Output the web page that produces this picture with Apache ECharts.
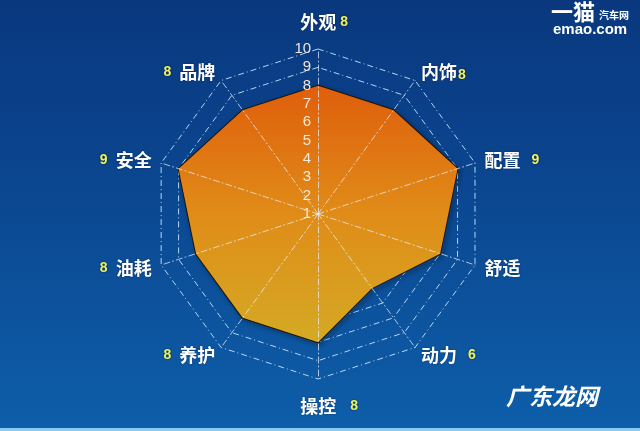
<!DOCTYPE html>
<html>
<head>
<meta charset="utf-8">
<script src="https://cdn.jsdelivr.net/npm/echarts@6/dist/echarts.min.js"></script>
<style>
html,body{margin:0;padding:0;}
#chart{width:640px;height:431px;background:linear-gradient(to bottom,#09387e 0%,#0b4791 45%,#0e5ea9 99.2%,#8ccaf0 99.4%);}
</style>
</head>
<body>
<div id="chart"></div>
<script>
// Data (clockwise from top)
var categories = ['外观', '内饰', '配置', '舒适', '动力', '操控', '养护', '油耗', '安全', '品牌'];
var scores = [8, 8, 9, 8, 6, 8, 8, 8, 9, 8];
var scoreLabels = ['8', '8', '9', '', '6', '8', '8', '8', '9', '8'];
var scaleMin = 1, scaleMax = 10;

// ECharts radar runs counter-clockwise: reorder so the chart reads clockwise
var order = [0, 9, 8, 7, 6, 5, 4, 3, 2, 1];
var libCats = order.map(function (i) { return categories[i]; });
var libScores = order.map(function (i) { return scores[i]; });

var chart = echarts.init(document.getElementById('chart'));
var dash = [6, 3, 1, 3];

function nameFormatter(name) {
  var i = categories.indexOf(name);
  var s = scoreLabels[i];
  if (i === 0) return '{nt|' + name + '}{vt|' + s + '}';
  if (i === 5) return '{nb|' + name + '}{vb|' + s + '}';
  if (i > 5) return '{vl|' + s + '}{n|' + name + '}';
  if (!s) return '{n|' + name + '}';
  if (i === 1) return '{n|' + name + '}{v0|' + s + '}';
  return '{n|' + name + '}{vr|' + s + '}';
}

var numStyle = {color: '#eef35e', fontSize: 14, fontWeight: 'bold', fontFamily: 'Liberation Sans, Arial, sans-serif',
  textShadowColor: 'rgba(0,0,0,0.6)', textShadowBlur: 2};
var nameStyle = {color: '#ffffff', fontSize: 18, fontWeight: 'bold', fontFamily: 'Noto Sans CJK SC, sans-serif'};

function indicators(withLabel) {
  return libCats.map(function (c, i) {
    var o = {name: c, min: scaleMin, max: scaleMax};
    if (withLabel && i === 0) o.axisLabel = {show: true};
    return o;
  });
}

var common = {
  center: ['49.7%', '49.65%'],
  radius: 165,
  startAngle: 90,
  splitNumber: 9,
  shape: 'polygon',
  splitArea: {show: false},
  axisTick: {show: false}
};

chart.setOption({
  backgroundColor: 'transparent',
  animation: false,
  graphic: [
    {type: 'text', left: 551, top: 1, style: {text: '一猫', fill: '#fff', font: 'bold 22px "Noto Sans CJK SC"'}},
    {type: 'text', left: 599, top: 10, style: {text: '汽车网', fill: '#fff', font: 'bold 10px "Noto Sans CJK SC"'}},
    {type: 'text', left: 553, top: 22, style: {text: 'emao.com', fill: '#fff', font: 'bold 15px "Liberation Sans"'}},
    {type: 'text', left: 506, top: 385, style: {text: '广东龙网', fill: '#fff', font: 'italic bold 23px "Noto Sans CJK SC"',
      shadowColor: 'rgba(0,0,0,0.7)', shadowBlur: 3, shadowOffsetX: 1, shadowOffsetY: 1}}
  ],
  radar: [
    Object.assign({}, common, {
      z: 0,
      nameGap: 10,
      indicator: indicators(false),
      axisName: {
        formatter: nameFormatter,
        color: '#fff', fontSize: 18, fontWeight: 'bold', fontFamily: 'Noto Sans CJK SC, sans-serif',
        textShadowColor: 'rgba(0,0,0,0.4)', textShadowBlur: 2,
        rich: {
          n: nameStyle,
          nt: Object.assign({}, nameStyle, {padding: [0, 0, 8, 12]}),
          nb: Object.assign({}, nameStyle, {padding: [8, 0, 0, 22]}),
          vt: Object.assign({}, numStyle, {padding: [0, 0, 8, 4]}),
          vb: Object.assign({}, numStyle, {padding: [8, 0, 0, 14]}),
          vr: Object.assign({}, numStyle, {padding: [0, 0, 0, 11]}),
          v0: Object.assign({}, numStyle, {padding: [6, 0, 0, 1]}),
          vl: Object.assign({}, numStyle, {padding: [0, 8, 0, 0]})
        }
      },
      axisLine: {show: false},
      splitLine: {lineStyle: {color: 'rgba(200,230,255,0.9)', type: dash, width: 1}},
      axisLabel: {show: false}
    }),
    Object.assign({}, common, {
      z: 5,
      indicator: indicators(true),
      axisName: {show: false},
      axisLine: {lineStyle: {color: 'rgba(235,240,250,0.72)', type: dash, width: 1}},
      splitLine: {show: false},
      axisLabel: {show: false, color: 'rgba(255,240,220,0.95)', fontSize: 15, margin: 7,
        fontFamily: 'Liberation Sans, Arial, sans-serif'}
    })
  ],
  series: [{
    type: 'radar',
    radarIndex: 0,
    symbol: 'none',
    z: 2,
    data: [{value: libScores}],
    lineStyle: {color: '#1c1208', width: 2, shadowColor: 'rgba(0,0,0,0.5)', shadowBlur: 4, shadowOffsetX: 2, shadowOffsetY: 2},
    areaStyle: {
      opacity: 1,
      color: new echarts.graphic.LinearGradient(0, 0, 0, 1, [
        {offset: 0, color: '#df5e0c'},
        {offset: 0.5, color: '#e08c18'},
        {offset: 1, color: '#d4aa24'}
      ])
    }
  }]
});
</script>
</body>
</html>
